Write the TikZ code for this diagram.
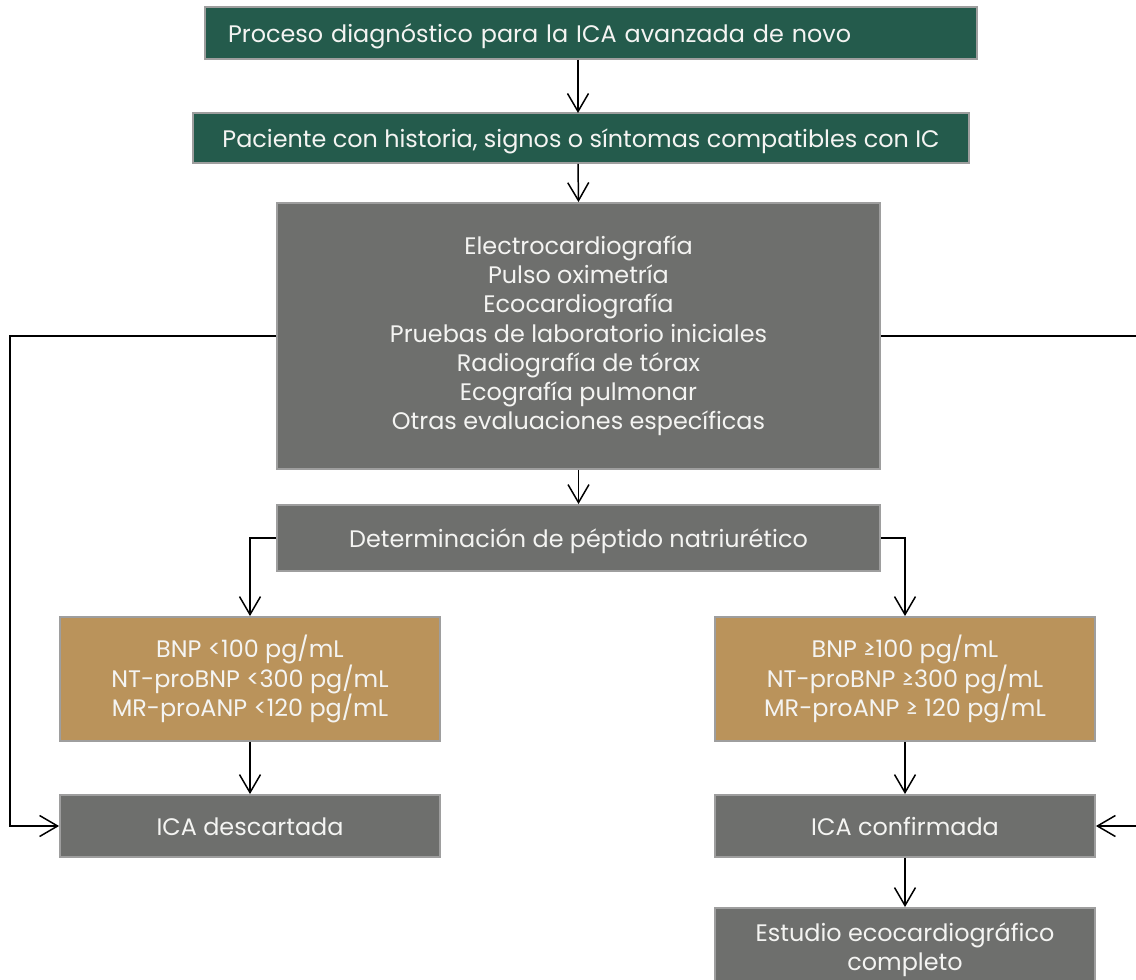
\documentclass[tikz,border=0pt]{standalone}
\usepackage{fontspec}
\setmainfont{Poppins}
\usepackage{xcolor}
\usetikzlibrary{arrows.meta, positioning}
\definecolor{icgreen}{HTML}{245B4C}
\definecolor{icgray}{HTML}{6E6F6D}
\definecolor{ictan}{HTML}{BA935B}
\definecolor{icline}{HTML}{9E9E9E}
\definecolor{ictext}{HTML}{F4F4F2}

\begin{document}
\begin{tikzpicture}[
  x=0.02cm, y=-0.02cm,
  box/.style={draw=icline, line width=1.1pt, fill=icgray, text=ictext, inner sep=0pt, align=center,
    font=\fontsize{13.6}{16.6}\selectfont,
    execute at begin node={\lineskiplimit=-1cm\relax\rule{0pt}{0.5cm}}, execute at end node={\rule[-0.13cm]{0pt}{0pt}}},
  multi/.style={execute at begin node={\lineskiplimit=-1cm\relax\rule{0pt}{0.62cm}}},
  arr/.style={-{Straight Barb[length=3.6mm, width=4.2mm]}, line width=0.85pt, black}
]
  \useasboundingbox (0,0) rectangle (1136,980);

  \node[box, fill=icgreen, minimum width=15.44cm, minimum height=1.04cm, text width=14.52cm, align=left] (proceso) at (591,33) {Proceso diagnóstico para la ICA avanzada de novo};
  \node[box, fill=icgreen, minimum width=15.52cm, minimum height=1.0cm] (paciente) at (581,138) {Paciente con historia, signos o síntomas compatibles con IC};
  \node[box, multi, minimum width=12.06cm, minimum height=5.32cm] (pruebas) at (578.5,336) {Electrocardiografía\\Pulso oximetría\\Ecocardiografía\\Pruebas de laboratorio iniciales\\Radiografía de tórax\\Ecografía pulmonar\\Otras evaluaciones específicas};
  \node[box, minimum width=12.06cm, minimum height=1.32cm] (peptido) at (578.5,538) {Determinación de péptido natriurético};

  \node[box, multi, fill=ictan, minimum width=7.6cm, minimum height=2.48cm] (bajo) at (250,679) {BNP <100 pg/mL\\NT-proBNP <300 pg/mL\\MR-proANP <120 pg/mL};
  \node[box, multi, fill=ictan, minimum width=7.6cm, minimum height=2.48cm] (alto) at (905,679) {BNP ≥100 pg/mL\\NT-proBNP ≥300 pg/mL\\MR-proANP ≥ 120 pg/mL};

  \node[box, minimum width=7.6cm, minimum height=1.24cm] (descartada) at (250,826) {ICA descartada};
  \node[box, minimum width=7.6cm, minimum height=1.24cm] (confirmada) at (905,826) {ICA confirmada};
  \node[box, multi, minimum width=7.6cm, minimum height=1.68cm] (estudio) at (905,950) {Estudio ecocardiográfico\\completo};

  \draw[arr] (proceso.south -| paciente.north) ++(-3,0) -- ++(0,53);
  \draw[arr] (paciente.south) ++(-3,0) -- (pruebas.north);
  \draw[arr] (pruebas.south) -- (peptido.north);
  \draw[arr] (peptido.west) -| (bajo.north);
  \draw[arr] (peptido.east) -| (alto.north);
  \draw[arr] (bajo.south) -- (descartada.north);
  \draw[arr] (alto.south) -- (confirmada.north);
  \draw[arr] (confirmada.south) -- (estudio.north);
  \draw[arr] (pruebas.west) -- ++(-266,0) |- (descartada.west);
  \draw[arr] (pruebas.east) -- ++(262,0) |- (confirmada.east);
\end{tikzpicture}
\end{document}
